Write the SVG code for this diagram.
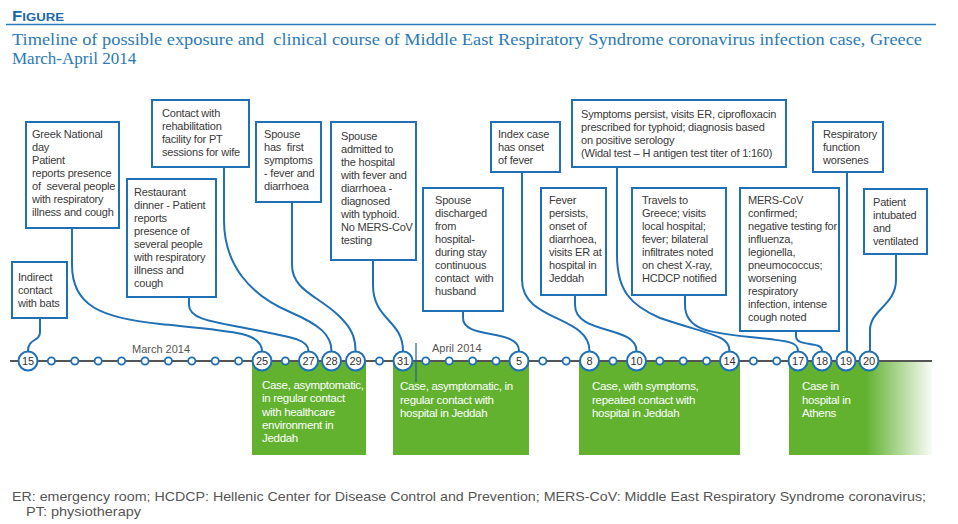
<svg xmlns="http://www.w3.org/2000/svg" width="958" height="524" viewBox="0 0 958 524">
<style>
.box{fill:#fff;stroke:#1f70b4;stroke-width:2}
.bt{font-family:"Liberation Sans",Arial,sans-serif;font-size:11px;fill:#3a3a3a;letter-spacing:-0.2px}
.conn path{fill:none;stroke:#1f70b4;stroke-width:2}
.big{fill:#fff;stroke:#1f70b4;stroke-width:2}
.sm{fill:#fff;stroke:#1f70b4;stroke-width:1.8}
.num{font-family:"Liberation Sans",Arial,sans-serif;font-size:11px;fill:#333;text-anchor:middle}
.gt{font-family:"Liberation Sans",Arial,sans-serif;font-size:11.5px;fill:#fff;letter-spacing:-0.3px}
.green{fill:#62b22f}
.month{font-family:"Liberation Sans",Arial,sans-serif;font-size:11px;fill:#555}
</style>
<defs>
<linearGradient id="fade" gradientUnits="userSpaceOnUse" x1="789" y1="0" x2="932" y2="0">
<stop offset="0" stop-color="#62b22f"/>
<stop offset="0.54" stop-color="#62b22f"/>
<stop offset="1" stop-color="#62b22f" stop-opacity="0.04"/>
</linearGradient>
</defs>
<rect width="958" height="524" fill="#fff"/>

<g id="header">
<text x="12" y="21" font-family="Liberation Sans,Arial,sans-serif" font-weight="bold" fill="#1b68ad" textLength="52" lengthAdjust="spacingAndGlyphs"><tspan font-size="14">F</tspan><tspan font-size="11">IGURE</tspan></text>
<line x1="6" y1="24.5" x2="936" y2="24.5" stroke="#2c7bbf" stroke-width="1.5"/>
<text xml:space="preserve" x="12" y="45" font-family="Liberation Serif,Times New Roman,serif" font-size="17" fill="#2a7ab8" textLength="910" lengthAdjust="spacingAndGlyphs">Timeline of possible exposure and  clinical course of Middle East Respiratory Syndrome coronavirus infection case, Greece</text>
<text x="12" y="64" font-family="Liberation Serif,Times New Roman,serif" font-size="17" fill="#2a7ab8">March-April 2014</text>
</g>

<g id="phases">
<rect class="green" x="252" y="361" width="114" height="94"/>
<rect class="green" x="393" y="361" width="136" height="94"/>
<rect class="green" x="579" y="361" width="161" height="94"/>
<rect x="789" y="361" width="143" height="94" fill="url(#fade)"/>
<text class="gt"><tspan x="262" y="389">Case, asymptomatic,</tspan><tspan x="262" y="402.3">in regular contact</tspan><tspan x="262" y="415.6">with healthcare</tspan><tspan x="262" y="429">environment in</tspan><tspan x="262" y="442.3">Jeddah</tspan></text>
<text class="gt"><tspan x="400" y="390">Case, asymptomatic, in</tspan><tspan x="400" y="403.6">regular contact with</tspan><tspan x="400" y="417.2">hospital in Jeddah</tspan></text>
<text class="gt"><tspan x="592" y="390">Case, with symptoms,</tspan><tspan x="592" y="403.6">repeated contact with</tspan><tspan x="592" y="417.2">hospital in Jeddah</tspan></text>
<text class="gt"><tspan x="802" y="390">Case in</tspan><tspan x="802" y="403.6">hospital in</tspan><tspan x="802" y="417.2">Athens</tspan></text>
</g>

<g id="timeline">
<line x1="10" y1="361" x2="932" y2="361" stroke="#555" stroke-width="2"/>
<line x1="416" y1="343" x2="416" y2="382" stroke="#1f5f9e" stroke-width="1.2"/>
<text class="month" x="132" y="353">March 2014</text>
<text class="month" x="432" y="352">April 2014</text>
<g id="small-days">
<circle class="sm" cx="51.4" cy="361" r="3.6"/><circle class="sm" cx="74.8" cy="361" r="3.6"/><circle class="sm" cx="98.2" cy="361" r="3.6"/><circle class="sm" cx="121.6" cy="361" r="3.6"/><circle class="sm" cx="145" cy="361" r="3.6"/><circle class="sm" cx="168.4" cy="361" r="3.6"/><circle class="sm" cx="191.8" cy="361" r="3.6"/><circle class="sm" cx="215.2" cy="361" r="3.6"/><circle class="sm" cx="238.6" cy="361" r="3.6"/>
<circle class="sm" cx="285.4" cy="361" r="3.6"/><circle class="sm" cx="379.5" cy="361" r="3.6"/>
<circle class="sm" cx="425.8" cy="361" r="3.6"/><circle class="sm" cx="449.2" cy="361" r="3.6"/><circle class="sm" cx="472.6" cy="361" r="3.6"/><circle class="sm" cx="496" cy="361" r="3.6"/>
<circle class="sm" cx="542.8" cy="361" r="3.6"/><circle class="sm" cx="566.2" cy="361" r="3.6"/><circle class="sm" cx="613" cy="361" r="3.6"/>
<circle class="sm" cx="659.8" cy="361" r="3.6"/><circle class="sm" cx="683.2" cy="361" r="3.6"/><circle class="sm" cx="706.6" cy="361" r="3.6"/>
<circle class="sm" cx="753.4" cy="361" r="3.6"/><circle class="sm" cx="776.8" cy="361" r="3.6"/>
</g>
</g>

<g class="conn" id="connectors">
<path d="M40 318 V332 C40 342 28 338 28 351"/>
<path d="M72 228 V265 C72 305 100 318 160 324 C230 331 262 332 262 351"/>
<path d="M189 297 V305 C189 320 215 322 255 330 C295 338 308.5 340 308.5 351"/>
<path d="M224 167 V220 C224 265 250 295 290 312 C320 325 331.5 335 331.5 351"/>
<path d="M292 202 V265 C292 290 318 296 338 315 C352 328 355.5 338 355.5 351"/>
<path d="M373 260 V285 C373 320 403 320 403 351"/>
<path d="M463 311 V318 C463 340 519 328 519 351"/>
<path d="M522 172 V280 C522 322 589.5 315 589.5 351"/>
<path d="M575 295 V305 C575 335 636.5 325 636.5 351"/>
<path d="M617 167 V255 C617 290 630 305 660 318 C710 335 729.5 335 729.5 351"/>
<path d="M685 295 V305 C685 330 710 333 750 337 C790 341 798 342 798 351"/>
<path d="M796 331 V336 C796 348 822 340 822 351"/>
<path d="M847 172 V351"/>
<path d="M896 254 V280 C896 305 870 310 870 330 V351"/>
</g>

<g id="days">
<g id="d15"><circle class="big" cx="28" cy="361" r="9.5"/><text class="num" x="28" y="365">15</text></g>
<g id="d25"><circle class="big" cx="262" cy="361" r="9.5"/><text class="num" x="262" y="365">25</text></g>
<g id="d27"><circle class="big" cx="308.5" cy="361" r="9.5"/><text class="num" x="308.5" y="365">27</text></g>
<g id="d28"><circle class="big" cx="331.5" cy="361" r="9.5"/><text class="num" x="331.5" y="365">28</text></g>
<g id="d29"><circle class="big" cx="355.5" cy="361" r="9.5"/><text class="num" x="355.5" y="365">29</text></g>
<g id="d31"><circle class="big" cx="403" cy="361" r="9.5"/><text class="num" x="403" y="365">31</text></g>
<g id="a5"><circle class="big" cx="519" cy="361" r="9.5"/><text class="num" x="519" y="365">5</text></g>
<g id="a8"><circle class="big" cx="589.5" cy="361" r="9.5"/><text class="num" x="589.5" y="365">8</text></g>
<g id="a10"><circle class="big" cx="636.5" cy="361" r="9.5"/><text class="num" x="636.5" y="365">10</text></g>
<g id="a14"><circle class="big" cx="729.5" cy="361" r="9.5"/><text class="num" x="729.5" y="365">14</text></g>
<g id="a17"><circle class="big" cx="798" cy="361" r="9.5"/><text class="num" x="798" y="365">17</text></g>
<g id="a18"><circle class="big" cx="822" cy="361" r="9.5"/><text class="num" x="822" y="365">18</text></g>
<g id="a19"><circle class="big" cx="846" cy="361" r="9.5"/><text class="num" x="846" y="365">19</text></g>
<g id="a20"><circle class="big" cx="869" cy="361" r="9.5"/><text class="num" x="869" y="365">20</text></g>
</g>

<g id="n-bats"><rect class="box" x="12" y="262" width="55" height="56"/>
<text class="bt"><tspan x="18" y="281">Indirect</tspan><tspan x="18" y="294">contact</tspan><tspan x="18" y="307">with bats</tspan></text></g>

<g id="n-greek"><rect class="box" x="26" y="122" width="93" height="106"/>
<text class="bt" xml:space="preserve"><tspan x="32" y="138">Greek National</tspan><tspan x="32" y="151">day</tspan><tspan x="32" y="164">Patient</tspan><tspan x="32" y="177">reports presence</tspan><tspan x="32" y="190">of  several people</tspan><tspan x="32" y="203">with respiratory</tspan><tspan x="32" y="216">illness and cough</tspan></text></g>

<g id="n-restaurant"><rect class="box" x="127" y="179" width="89" height="118"/>
<text class="bt"><tspan x="134" y="196">Restaurant</tspan><tspan x="134" y="209">dinner - Patient</tspan><tspan x="134" y="222">reports</tspan><tspan x="134" y="235">presence of</tspan><tspan x="134" y="248">several people</tspan><tspan x="134" y="261">with respiratory</tspan><tspan x="134" y="274">illness and</tspan><tspan x="134" y="287">cough</tspan></text></g>

<g id="n-rehab"><rect class="box" x="152" y="100" width="97" height="67"/>
<text class="bt"><tspan x="162" y="117">Contact with</tspan><tspan x="162" y="130">rehabilitation</tspan><tspan x="162" y="143">facility for PT</tspan><tspan x="162" y="156">sessions for wife</tspan></text></g>

<g id="n-spouse-symptoms"><rect class="box" x="256" y="122" width="65" height="80"/>
<text class="bt" xml:space="preserve"><tspan x="264" y="138">Spouse</tspan><tspan x="264" y="151">has  first</tspan><tspan x="264" y="164">symptoms</tspan><tspan x="264" y="177">- fever and</tspan><tspan x="264" y="190">diarrhoea</tspan></text></g>

<g id="n-spouse-admitted"><rect class="box" x="331" y="122" width="85" height="138"/>
<text class="bt"><tspan x="341" y="140">Spouse</tspan><tspan x="341" y="153">admitted to</tspan><tspan x="341" y="166">the hospital</tspan><tspan x="341" y="179">with fever and</tspan><tspan x="341" y="192">diarrhoea -</tspan><tspan x="341" y="205">diagnosed</tspan><tspan x="341" y="218">with typhoid.</tspan><tspan x="341" y="231">No MERS-CoV</tspan><tspan x="341" y="244">testing</tspan></text></g>

<g id="n-spouse-discharged"><rect class="box" x="423" y="188" width="80" height="123"/>
<text class="bt" xml:space="preserve"><tspan x="435" y="204">Spouse</tspan><tspan x="435" y="217">discharged</tspan><tspan x="435" y="230">from</tspan><tspan x="435" y="243">hospital-</tspan><tspan x="435" y="256">during stay</tspan><tspan x="435" y="269">continuous</tspan><tspan x="435" y="282">contact  with</tspan><tspan x="435" y="295">husband</tspan></text></g>

<g id="n-index"><rect class="box" x="491" y="122" width="69" height="50"/>
<text class="bt"><tspan x="498" y="138">Index case</tspan><tspan x="498" y="151">has onset</tspan><tspan x="498" y="164">of fever</tspan></text></g>

<g id="n-fever"><rect class="box" x="541" y="188" width="65" height="107"/>
<text class="bt"><tspan x="549" y="204">Fever</tspan><tspan x="549" y="217">persists,</tspan><tspan x="549" y="230">onset of</tspan><tspan x="549" y="243">diarrhoea,</tspan><tspan x="549" y="256">visits ER at</tspan><tspan x="549" y="269">hospital in</tspan><tspan x="549" y="282">Jeddah</tspan></text></g>

<g id="n-symptoms"><rect class="box" x="572" y="100" width="214" height="67"/>
<text class="bt"><tspan x="581" y="118">Symptoms persist, visits ER, ciprofloxacin</tspan><tspan x="581" y="131">prescribed for typhoid; diagnosis based</tspan><tspan x="581" y="144">on positive serology</tspan><tspan x="581" y="157">(Widal test – H antigen test titer of 1:160)</tspan></text></g>

<g id="n-travels"><rect class="box" x="632" y="188" width="94" height="107"/>
<text class="bt"><tspan x="642" y="204">Travels to</tspan><tspan x="642" y="217">Greece; visits</tspan><tspan x="642" y="230">local hospital;</tspan><tspan x="642" y="243">fever; bilateral</tspan><tspan x="642" y="256">infiltrates noted</tspan><tspan x="642" y="269">on chest X-ray,</tspan><tspan x="642" y="282">HCDCP notified</tspan></text></g>

<g id="n-mers"><rect class="box" x="740" y="188" width="99" height="143"/>
<text class="bt"><tspan x="748" y="204">MERS-CoV</tspan><tspan x="748" y="217">confirmed;</tspan><tspan x="748" y="230">negative testing for</tspan><tspan x="748" y="243">influenza,</tspan><tspan x="748" y="256">legionella,</tspan><tspan x="748" y="269">pneumococcus;</tspan><tspan x="748" y="282">worsening</tspan><tspan x="748" y="295">respiratory</tspan><tspan x="748" y="308">infection, intense</tspan><tspan x="748" y="321">cough noted</tspan></text></g>

<g id="n-resp"><rect class="box" x="813" y="122" width="70" height="50"/>
<text class="bt"><tspan x="823" y="138">Respiratory</tspan><tspan x="823" y="151">function</tspan><tspan x="823" y="164">worsenes</tspan></text></g>

<g id="n-intubated"><rect class="box" x="864" y="189" width="63" height="65"/>
<text class="bt"><tspan x="873" y="206">Patient</tspan><tspan x="873" y="219">intubated</tspan><tspan x="873" y="232">and</tspan><tspan x="873" y="245">ventilated</tspan></text></g>

<g id="footer" font-family="Liberation Sans,Arial,sans-serif" font-size="13.5" fill="#555">
<text x="12" y="501" textLength="914" lengthAdjust="spacingAndGlyphs">ER: emergency room; HCDCP: Hellenic Center for Disease Control and Prevention; MERS-CoV: Middle East Respiratory Syndrome coronavirus;</text>
<text x="26" y="516" textLength="115" lengthAdjust="spacingAndGlyphs">PT: physiotherapy</text>
</g>
</svg>
